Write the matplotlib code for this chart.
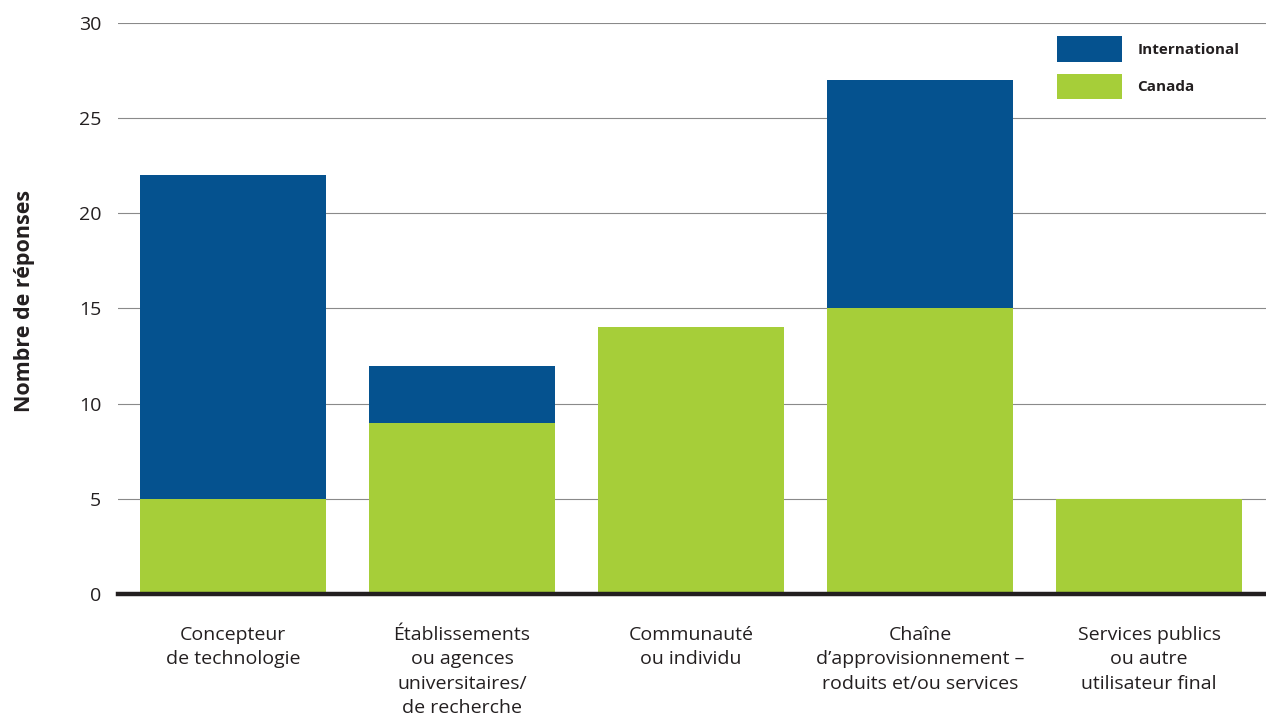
import matplotlib
matplotlib.use("Agg")
import matplotlib.pyplot as plt
import numpy as np

categories = [
    "Concepteur\nde technologie",
    "Établissements\nou agences\nuniversitaires/\nde recherche",
    "Communauté\nou individu",
    "Chaîne\nd’approvisionnement –\nroduits et/ou services",
    "Services publics\nou autre\nutilisateur final",
]
canada = [5, 9, 14, 15, 5]
international = [17, 3, 0, 12, 0]
y_ticks = [0, 5, 10, 15, 20, 25, 30]

BLUE = "#05528F"
GREEN = "#A6CE39"
TEXT = "#231F20"

plt.rcParams["font.family"] = ["Open Sans", "DejaVu Sans"]

fig = plt.figure(figsize=(12.66, 7.19), dpi=100)
ax = fig.add_axes([0.0932, 0.1739, 0.9068, 0.7942])

x = np.arange(len(categories))
width = 0.812
ax.bar(x, canada, width, color=GREEN, label="Canada", zorder=3)
ax.bar(x, international, width, bottom=canada, color=BLUE,
       label="International", zorder=3)

ax.set_xlim(-0.502, 4.51)
ax.set_ylim(0, 30)
ax.set_yticks(y_ticks)
ax.set_yticklabels([str(v) for v in y_ticks])
ax.yaxis.grid(True, color="#8a8a8a", linewidth=0.8, zorder=0)
ax.axhline(0, color=TEXT, linewidth=3.2, zorder=4, clip_on=False)
for s in ax.spines.values():
    s.set_visible(False)
ax.tick_params(axis="y", length=0, pad=12, labelsize=14, labelcolor=TEXT)
ax.tick_params(axis="x", length=0, pad=23)
ax.set_xticks(x)
ax.set_xticklabels(categories, fontsize=14, color=TEXT, linespacing=1.45,
                   va="top")
ax.set_ylabel("Nombre de réponses", fontsize=15.5, fontweight="bold",
              color=TEXT)
ax.yaxis.set_label_coords(-0.072, 0.513)

handles, labels = ax.get_legend_handles_labels()
leg = ax.legend(handles[::-1], labels[::-1], loc="upper left",
                bbox_to_anchor=(1057 / 1266, 1 - 36 / 719),
                bbox_transform=fig.transFigure, frameon=False,
                fontsize=11, handlelength=4.25, handleheight=2.2,
                labelspacing=0.8, handletextpad=1.0, borderpad=0,
                borderaxespad=0)
for t in leg.get_texts():
    t.set_fontweight("bold")
    t.set_color(TEXT)

fig.savefig("out.png", dpi=100)
